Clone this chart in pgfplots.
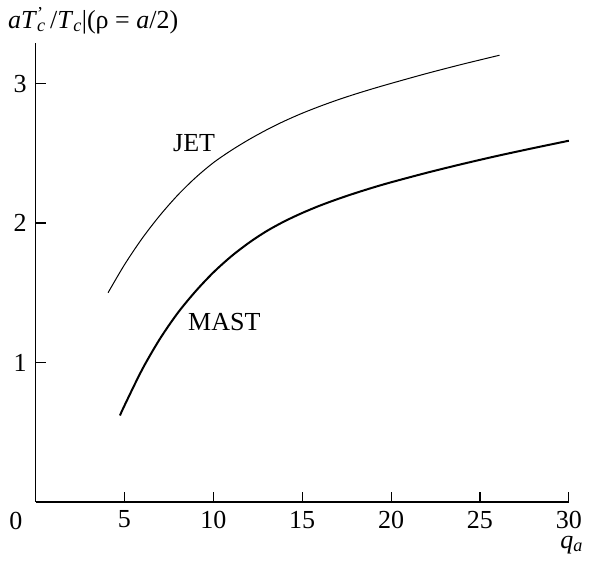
\documentclass[border=0pt]{standalone}
\usepackage{pgfplots}
\pgfplotsset{compat=1.18}
\usepackage{fontspec}
\setmainfont{Liberation Serif}
\begin{document}
\fontsize{26bp}{31bp}\selectfont
\begin{tikzpicture}
\begin{axis}[
  scale only axis,
  width=533.5bp, height=459bp,
  xmin=0, xmax=30, ymin=0, ymax=3.29,
  axis lines=left,
  axis line style={-, line width=1.1bp},
  xtick={5,10,15,20,25,30},
  ytick={1,2,3},
  tick align=inside,
  major tick length=10bp,
  tick style={line width=1.1bp, black},
  /pgf/number format/assume math mode=true,
  tick label style={font=\fontsize{26bp}{31bp}\selectfont},
  clip=false,
]
\addplot[black, line width=1bp, smooth] coordinates {
(4.08,1.50) (5,1.70) (6,1.89) (7,2.055) (8,2.20) (9,2.325) (10,2.432) (11,2.52) (12,2.598) (13,2.668) (14,2.731) (15,2.787) (16,2.837) (17,2.883) (18,2.925) (19,2.964) (20,3.001) (22,3.072) (24,3.138) (26.1,3.203)
};
\addplot[black, line width=2bp, smooth] coordinates {
(4.75,0.62) (5,0.69) (6,0.95) (7,1.17) (8,1.355) (9,1.51) (10,1.645) (11,1.760) (12,1.858) (13,1.942) (14,2.012) (15,2.072) (16,2.125) (17,2.172) (18,2.215) (19,2.255) (20,2.292) (22,2.36) (24,2.423) (26,2.482) (28,2.537) (30,2.59)
};
\node[anchor=base] at (axis cs:8.92,2.511) {JET};
\node[anchor=base] at (axis cs:10.62,1.228) {MAST};
\node[anchor=north, inner sep=0pt] at (axis cs:-1.1,-0.075) {0};
\node[anchor=base west, inner sep=0pt] at (axis cs:-1.55,3.398) {\textit{aT}\rlap{\textsuperscript{'}}\textsubscript{\textit{c}}\,/\textit{T}\textsubscript{\textit{c}}|(ρ = \textit{a}/2)};
\node[anchor=base east, inner sep=0pt] at (axis cs:30.8,-0.33) {\textit{q}\textsubscript{\textit{a}}};
\coordinate (BL) at (axis cs:-1.997,-0.452);
\coordinate (TR) at (axis cs:31.47,3.599);
\end{axis}
\pgfresetboundingbox
\path[use as bounding box] (BL) rectangle (TR);
\end{tikzpicture}
\end{document}
